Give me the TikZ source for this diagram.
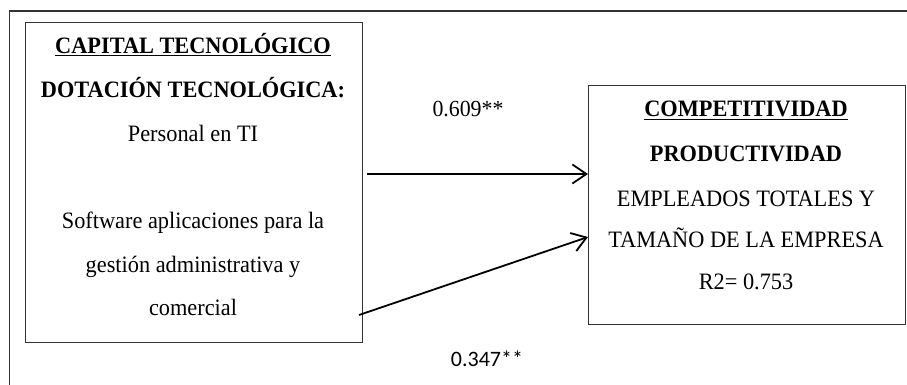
\documentclass[tikz,border=0pt]{standalone}
\usepackage{fontspec}
\setmainfont[FakeStretch=0.95]{Liberation Serif}
\newfontfamily\calibfont{Carlito}
\usetikzlibrary{arrows.meta}

\tikzset{
  panel/.style={draw=black!80, line width=1.3pt, inner sep=0pt},
  txt/.style={anchor=base, inner sep=0pt, font=\fontsize{23.5}{26}\selectfont},
  boldtxt/.style={txt, font=\bfseries\fontsize{23.5}{26}\selectfont},
  link/.style={draw=black, line width=1.8pt,
    -{Straight Barb[length=14pt, width=19pt, line width=1.8pt]}},
  coef/.style={anchor=base, inner sep=0pt, font=\fontsize{23}{26}\selectfont},
}

\begin{document}
\begin{tikzpicture}[x=1pt, y=-1pt]
  \useasboundingbox (0,0) rectangle (907,385);

  % open outer frame
  \draw[black!80, line width=1.2pt] (9.5,385) -- (9.5,11) -- (907,11);

  % independent variable block
  \node[panel, minimum width=337pt, minimum height=320pt, anchor=north west] (lbox) at (25,22) {};
  \node[boldtxt] (l1) at (193,54) {\underline{CAPITAL TECNOLÓGICO}};
  \node[boldtxt] (l2) at (193,98) {DOTACIÓN TECNOLÓGICA:};
  \node[txt] (l3) at (193,142) {Personal en TI};
  \node[txt] (l4) at (193,228) {Software aplicaciones para la};
  \node[txt] (l5) at (193,272) {gestión administrativa y};
  \node[txt] (l6) at (193,315) {comercial};

  % dependent variable block
  \node[panel, minimum width=317pt, minimum height=239pt, anchor=north west] (rbox) at (588,85) {};
  \node[boldtxt] (r1) at (746,117) {\underline{COMPETITIVIDAD}};
  \node[boldtxt] (r2) at (746,161) {PRODUCTIVIDAD};
  \node[txt] (r3) at (746,206) {EMPLEADOS TOTALES Y};
  \node[txt] (r4) at (746,247) {TAMAÑO DE LA EMPRESA};
  \node[txt] (r5) at (746,289) {R2= 0.753};

  % path starts and ends
  \coordinate (s1) at (367,174);
  \coordinate (s2) at (359,315);
  \coordinate (e1) at (rbox.west |- s1);
  \coordinate (e2) at (rbox.west |- 0,237);

  \draw[link] (s1) -- (e1);
  \draw[link] (s2) -- (e2);

  % path coefficients
  \node[coef] (c1) at (468,117) {0.609**};
  \node[coef, font=\calibfont\fontsize{22}{26}\selectfont] (c2) at (487,366) {0.347**};
\end{tikzpicture}
\end{document}
